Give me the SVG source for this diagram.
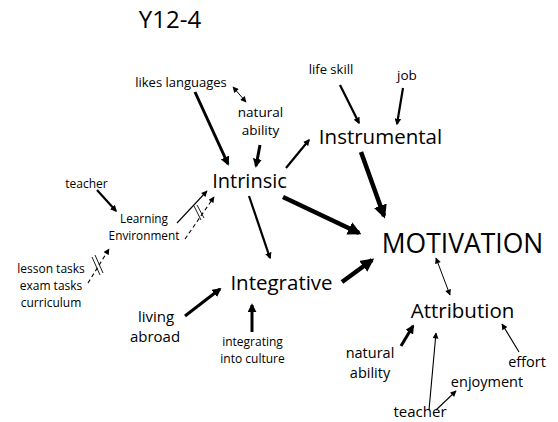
<svg xmlns="http://www.w3.org/2000/svg" width="558" height="422" viewBox="0 0 558 422">
<style>
text{font-family:"Open Sans","Noto Sans","Liberation Sans",sans-serif;fill:#000;text-anchor:middle}
.c{stroke:#000;fill:none;stroke-linecap:butt}
.th{stroke-width:3;marker-end:url(#ah)}
.tk{stroke-width:4.5;marker-end:url(#ah)}
.md{stroke-width:2.2;marker-end:url(#ah)}
.tn{stroke-width:1.1;marker-end:url(#at)}
.db{stroke-width:1;marker-end:url(#at);marker-start:url(#as)}
.ds{stroke-dasharray:4 3}
.h{stroke:#000;stroke-width:0.9}
</style>
<defs>
<marker id="ah" viewBox="0 0 10 10" refX="8" refY="5" markerWidth="3" markerHeight="3" orient="auto" markerUnits="strokeWidth"><path d="M0,0 L10,5 L0,10 z" fill="#000"/></marker>
<marker id="at" viewBox="0 0 10 10" refX="9" refY="5" markerWidth="7" markerHeight="6" orient="auto" markerUnits="userSpaceOnUse"><path d="M0,0 L10,5 L0,10 z" fill="#000"/></marker>
<marker id="as" viewBox="0 0 10 10" refX="1" refY="5" markerWidth="7" markerHeight="6" orient="auto" markerUnits="userSpaceOnUse"><path d="M10,0 L0,5 L10,10 z" fill="#000"/></marker>
</defs>
<rect width="558" height="422" fill="#fff"/>
<text x="170" y="28" style="font-size:24px">Y12-4</text>
<g id="connectors">
<line class="c th" x1="195" y1="92" x2="228" y2="164"/>
<line class="c db" x1="233" y1="87" x2="246" y2="102"/>
<line class="c th" x1="260" y1="145" x2="256" y2="166"/>
<line class="c md" x1="286" y1="168" x2="309" y2="140"/>
<line class="c md" x1="340" y1="85" x2="359" y2="123"/>
<line class="c md" x1="403" y1="88" x2="397" y2="124"/>
<line class="c tk" x1="361" y1="152" x2="384" y2="216"/>
<line class="c tk" x1="283" y1="197" x2="359" y2="233"/>
<line class="c md" x1="249" y1="196" x2="270" y2="258"/>
<line class="c md" x1="97" y1="190" x2="116" y2="211"/>
<line class="c tn" x1="177" y1="223" x2="207" y2="191"/>
<line class="c tn ds" x1="185" y1="239" x2="214" y2="197"/>
<line class="h" x1="194" y1="206" x2="201" y2="220"/>
<line class="h" x1="197" y1="205" x2="204" y2="218"/>
<line class="c tn ds" x1="88" y1="283" x2="109" y2="249"/>
<line class="h" x1="92" y1="257" x2="100" y2="275"/>
<line class="h" x1="95" y1="255" x2="103" y2="273"/>
<line class="c tk" x1="342" y1="282" x2="372" y2="260"/>
<line class="c th" x1="185" y1="316" x2="220" y2="289"/>
<line class="c th" x1="252" y1="332" x2="252" y2="305"/>
<line class="c db" x1="436" y1="258" x2="450" y2="295"/>
<line class="c th" x1="401" y1="346" x2="413" y2="326"/>
<line class="c tn" x1="429" y1="410" x2="436" y2="333"/>
<line class="c tn" x1="436" y1="410" x2="456" y2="391"/>
<line class="c tn" x1="519" y1="352" x2="502" y2="324"/>
</g>
<g id="likes-languages"><text x="181" y="87" style="font-size:13px">likes languages</text></g>
<g id="natural-ability-top"><text x="260.5" y="117" style="font-size:13.5px">natural</text><text x="260.5" y="135" style="font-size:13.5px">ability</text></g>
<g id="life-skill"><text x="331" y="74" style="font-size:13px">life skill</text></g>
<g id="job"><text x="407" y="80" style="font-size:13.5px">job</text></g>
<g id="instrumental"><text x="380.5" y="144" style="font-size:20.5px">Instrumental</text></g>
<g id="intrinsic"><text x="249.5" y="188" style="font-size:20px">Intrinsic</text></g>
<g id="teacher-left"><text x="86.5" y="188" style="font-size:12px">teacher</text></g>
<g id="learning-environment"><text x="144" y="223" style="font-size:11.8px">Learning</text><text x="144" y="240" style="font-size:11.8px">Environment</text></g>
<g id="tasks"><text x="51" y="273" style="font-size:12px">lesson tasks</text><text x="51" y="290" style="font-size:12px">exam tasks</text><text x="51" y="307" style="font-size:12px">curriculum</text></g>
<g id="motivation"><text x="462.5" y="253" style="font-size:26.5px">MOTIVATION</text></g>
<g id="integrative"><text x="281.5" y="290" style="font-size:20.5px">Integrative</text></g>
<g id="living-abroad"><text x="156" y="322" style="font-size:15px">living</text><text x="155" y="342" style="font-size:15px">abroad</text></g>
<g id="integrating"><text x="252.5" y="346" style="font-size:12px">integrating</text><text x="252.5" y="363" style="font-size:12px">into culture</text></g>
<g id="attribution"><text x="462.5" y="318" style="font-size:20.5px">Attribution</text></g>
<g id="natural-ability-bottom"><text x="370" y="358" style="font-size:14.5px">natural</text><text x="370" y="378" style="font-size:14.5px">ability</text></g>
<g id="effort"><text x="527" y="367" style="font-size:14.5px">effort</text></g>
<g id="enjoyment"><text x="487" y="387" style="font-size:14.5px">enjoyment</text></g>
<g id="teacher-bottom"><text x="420" y="417" style="font-size:15px">teacher</text></g>
</svg>
